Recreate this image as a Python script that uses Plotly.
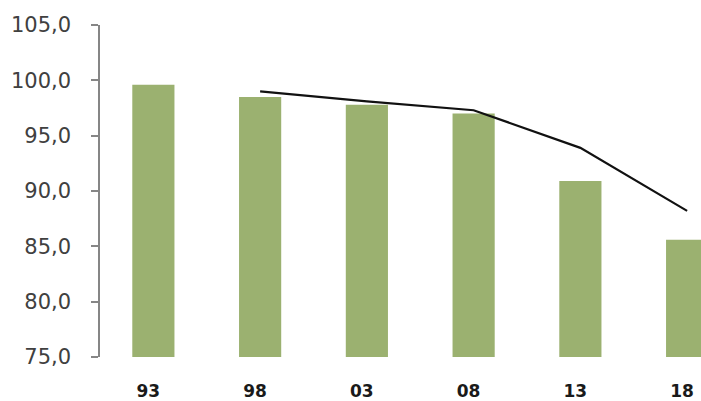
import plotly.graph_objects as go

categories = ["93", "98", "03", "08", "13", "18"]
bar_values = [99.6, 98.5, 97.8, 97.0, 90.9, 85.6]
line_categories = ["98", "03", "08", "13", "18"]
line_values = [99.0, 98.1, 97.3, 93.9, 88.2]
y_ticks = [75, 80, 85, 90, 95, 100, 105]

fig = go.Figure()
fig.add_trace(go.Bar(
    x=categories, y=bar_values,
    marker=dict(color="#9BB170", line=dict(width=0)),
    width=0.395,
))
fig.add_trace(go.Scatter(
    x=line_categories, y=line_values, mode="lines",
    line=dict(color="#111111", width=2.2),
))

fig.update_layout(
    width=701, height=401,
    margin=dict(l=100, r=0, t=25, b=44),
    paper_bgcolor="white", plot_bgcolor="white",
    showlegend=False,
    separators=", ",
)
fig.update_xaxes(
    type="category", categoryorder="array", categoryarray=categories,
    range=[-0.5, 5.13], automargin=False,
    showline=False, showgrid=False, ticks="",
    tickfont=dict(family="DejaVu Sans", size=17, color="#1a1a1a", weight="bold"),
    ticklabelstandoff=22, ticklabelshift=-5,
)
fig.update_yaxes(
    range=[75, 105], tickvals=y_ticks, tickformat=".1f", automargin=False,
    showgrid=False, zeroline=False,
    showline=True, linecolor="#868686", linewidth=1.5,
    ticks="outside", ticklen=7, tickcolor="#868686", tickwidth=1.5,
    tickfont=dict(family="DejaVu Sans", size=21, color="#404040"),
    ticklabelstandoff=16,
)

fig.write_html(
    "out.html",
    config={"displayModeBar": False},
    post_script="document.body.style.margin='0';document.body.style.overflow='hidden';",
)
